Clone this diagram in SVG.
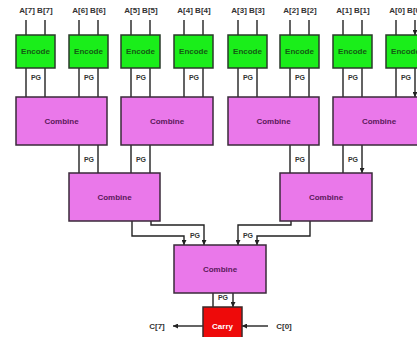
<svg xmlns="http://www.w3.org/2000/svg" width="417" height="337" viewBox="0 0 417 337">
<defs>
<marker id="ah" viewBox="0 0 6 6" refX="6" refY="3" markerWidth="6" markerHeight="5" markerUnits="userSpaceOnUse" orient="auto"><path d="M0,0 L6,3 L0,6 z" fill="#222"/></marker>
<style>
text{font-family:"Liberation Sans",Arial,sans-serif;font-weight:bold;text-anchor:middle}
.enc{fill:#1aee1a;stroke:#2a3a2a;stroke-width:1.5}
.cmb{fill:#ea78ea;stroke:#3a2a3a;stroke-width:1.5}
.car{fill:#ee0a0a;stroke:#3a2a2a;stroke-width:1.5}
.te{font-size:8px;fill:#145a14}
.tc{font-size:8px;fill:#5a1a5a}
.tr{font-size:8px;fill:#ffffff}
.lb{font-size:8px;fill:#333}
.pg{font-size:7px;fill:#333}
.w{fill:none;stroke:#222;stroke-width:1.4;marker-end:url(#ah)}
</style>
</defs>
<rect width="417" height="337" fill="#ffffff"/>
<g id="connectors">
<path class="w" d="M26,20V35M45,20V35M79,20V35M98,20V35M131,20V35M150,20V35M184,20V35M203,20V35M238,20V35M257,20V35M290,20V35M309,20V35M343,20V35M362,20V35M396,20V35M415,20V35"/>
<path class="w" d="M26,68V97M45,68V97M79,68V97M98,68V97M131,68V97M150,68V97M184,68V97M203,68V97M238,68V97M257,68V97M290,68V97M309,68V97M343,68V97M362,68V97M396,68V97M415,68V97"/>
<path class="w" d="M79,145V173M98,145V173M131,145V173M150,145V173M290,145V173M309,145V173M343,145V173M362,145V173"/>
<path class="w" d="M132,221V236H184V245"/>
<path class="w" d="M151,221V225H204V245"/>
<path class="w" d="M310,221V236H257V245"/>
<path class="w" d="M291,221V225H238V245"/>
<path class="w" d="M213,293V307M233,293V307"/>
<path class="w" d="M203,326H173"/>
<path class="w" d="M268,326H242"/>
<g>
<text class="pg" x="36" y="80">PG</text>
<text class="pg" x="89" y="80">PG</text>
<text class="pg" x="141" y="80">PG</text>
<text class="pg" x="194" y="80">PG</text>
<text class="pg" x="248" y="80">PG</text>
<text class="pg" x="300" y="80">PG</text>
<text class="pg" x="353" y="80">PG</text>
<text class="pg" x="406" y="80">PG</text>
<text class="pg" x="89" y="162">PG</text>
<text class="pg" x="141" y="162">PG</text>
<text class="pg" x="300" y="162">PG</text>
<text class="pg" x="353" y="162">PG</text>
<text class="pg" x="195" y="238">PG</text>
<text class="pg" x="248" y="238">PG</text>
<text class="pg" x="223" y="300">PG</text>
<text class="lb" x="157" y="329">C[7]</text>
<text class="lb" x="284" y="329">C[0]</text>
</g>
</g>
<g id="labels">
<text class="lb" x="36" y="13">A[7] B[7]</text>
<text class="lb" x="89" y="13">A[6] B[6]</text>
<text class="lb" x="141" y="13">A[5] B[5]</text>
<text class="lb" x="194" y="13">A[4] B[4]</text>
<text class="lb" x="248" y="13">A[3] B[3]</text>
<text class="lb" x="300" y="13">A[2] B[2]</text>
<text class="lb" x="353" y="13">A[1] B[1]</text>
<text class="lb" x="406" y="13">A[0] B[0]</text>
</g>
<g id="encode7"><rect class="enc" x="16" y="35" width="39" height="33"/><text class="te" x="35.5" y="54">Encode</text></g>
<g id="encode6"><rect class="enc" x="69" y="35" width="39" height="33"/><text class="te" x="88.5" y="54">Encode</text></g>
<g id="encode5"><rect class="enc" x="121" y="35" width="39" height="33"/><text class="te" x="140.5" y="54">Encode</text></g>
<g id="encode4"><rect class="enc" x="174" y="35" width="39" height="33"/><text class="te" x="193.5" y="54">Encode</text></g>
<g id="encode3"><rect class="enc" x="228" y="35" width="39" height="33"/><text class="te" x="247.5" y="54">Encode</text></g>
<g id="encode2"><rect class="enc" x="280" y="35" width="39" height="33"/><text class="te" x="299.5" y="54">Encode</text></g>
<g id="encode1"><rect class="enc" x="333" y="35" width="39" height="33"/><text class="te" x="352.5" y="54">Encode</text></g>
<g id="encode0"><rect class="enc" x="386" y="35" width="39" height="33"/><text class="te" x="405.5" y="54">Encode</text></g>
<g id="combine1a"><rect class="cmb" x="16" y="97" width="91" height="48"/><text class="tc" x="61.5" y="124">Combine</text></g>
<g id="combine1b"><rect class="cmb" x="121" y="97" width="92" height="48"/><text class="tc" x="167" y="124">Combine</text></g>
<g id="combine1c"><rect class="cmb" x="228" y="97" width="91" height="48"/><text class="tc" x="273.5" y="124">Combine</text></g>
<g id="combine1d"><rect class="cmb" x="333" y="97" width="92" height="48"/><text class="tc" x="379" y="124">Combine</text></g>
<g id="combine2a"><rect class="cmb" x="69" y="173" width="91" height="48"/><text class="tc" x="114.5" y="200">Combine</text></g>
<g id="combine2b"><rect class="cmb" x="280" y="173" width="92" height="48"/><text class="tc" x="326" y="200">Combine</text></g>
<g id="combine3"><rect class="cmb" x="174" y="245" width="92" height="48"/><text class="tc" x="220" y="272">Combine</text></g>
<g id="carry"><rect class="car" x="203" y="307" width="39" height="36"/><text class="tr" x="222.5" y="329">Carry</text></g>
</svg>
